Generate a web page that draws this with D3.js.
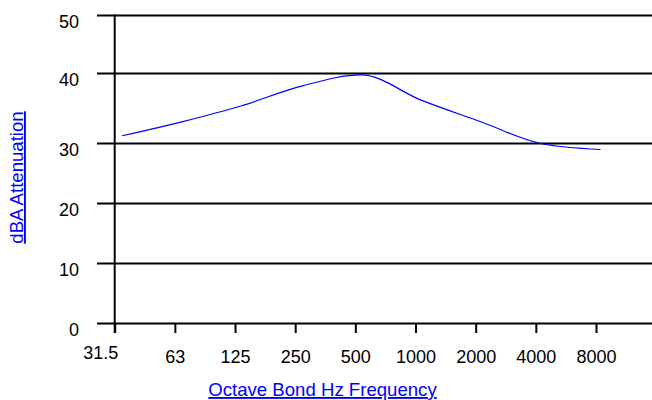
<!DOCTYPE html>
<html>
<head>
<meta charset="utf-8">
<script src="https://cdn.jsdelivr.net/npm/d3@7/dist/d3.min.js"></script>
<style>
  html, body { margin: 0; padding: 0; background: #fff; }
  svg { display: block; font-family: "Liberation Sans", Arial, sans-serif; }
</style>
</head>
<body>
<div id="chart"></div>
<script>
// Octave band centre frequencies (Hz) and attenuation
const frequencies = ['31.5', '63', '125', '250', '500', '1000', '2000', '4000', '8000'];
const attenuation = [31.1, 33.1, 35.4, 38.2, 39.8, 36.2, 33.1, 30.0, 29.0];
const yTicks = [0, 10, 20, 30, 40, 50];

const width = 652, height = 400;

const svg = d3.select('#chart')
  .append('svg')
  .attr('width', width)
  .attr('height', height);

// The source draws its grid a little unevenly, so use a piecewise scale
const y = d3.scaleLinear()
  .domain(yTicks)
  .range([323.5, 263.5, 203.5, 143.5, 73.5, 15.5]);

// Tick positions
const x = d3.scalePoint()
  .domain(frequencies)
  .range([114.7, 596]);

// The curve sits slightly right of the ticks in the original
const xLine = x.copy().range([122, 600.5]);

// Horizontal grid lines
svg.append('g')
  .selectAll('line')
  .data(yTicks)
  .join('line')
  .attr('x1', 97)
  .attr('x2', width)
  .attr('y1', d => y(d))
  .attr('y2', d => y(d))
  .attr('stroke', '#000')
  .attr('stroke-width', 2);

// Y tick labels
svg.append('g')
  .selectAll('text')
  .data(yTicks)
  .join('text')
  .attr('x', 79)
  .attr('y', d => y(d) + 12)
  .attr('text-anchor', 'end')
  .attr('font-size', 18)
  .attr('fill', '#000')
  .text(d => d);

// Vertical axis line
svg.append('line')
  .attr('x1', x(frequencies[0]))
  .attr('x2', x(frequencies[0]))
  .attr('y1', y(50) - 1)
  .attr('y2', y(0) + 9.5)
  .attr('stroke', '#000')
  .attr('stroke-width', 2);

// X axis ticks
const xAxis = svg.append('g')
  .attr('transform', `translate(0,${y(0)})`)
  .call(d3.axisBottom(x).tickSize(9.5).tickSizeOuter(0).tickPadding(17));

xAxis.select('.domain').remove();
xAxis.selectAll('.tick line')
  .attr('stroke', '#000')
  .attr('stroke-width', 2);
xAxis.selectAll('.tick text')
  .attr('font-size', 18)
  .attr('font-family', '"Liberation Sans", Arial, sans-serif')
  .attr('fill', '#000');
// first label sits left of its tick and a bit higher
xAxis.selectAll('.tick text')
  .filter(d => d === '31.5')
  .attr('text-anchor', 'end')
  .attr('dx', 3)
  .attr('dy', '0.5em');

// Attenuation curve
const line = d3.line()
  .x((d, i) => xLine(frequencies[i]))
  .y(d => y(d))
  .curve(d3.curveMonotoneX);

svg.append('path')
  .datum(attenuation)
  .attr('fill', 'none')
  .attr('stroke', '#0000ff')
  .attr('stroke-width', 1.2)
  .attr('d', line);

// Axis titles
svg.append('text')
  .attr('x', 322.5)
  .attr('y', 396)
  .attr('text-anchor', 'middle')
  .attr('font-size', 18.6)
  .attr('fill', '#0000ff')
  .attr('text-decoration', 'underline')
  .text('Octave Bond Hz Frequency');

svg.append('text')
  .attr('transform', 'translate(23,177.5) rotate(-90)')
  .attr('text-anchor', 'middle')
  .attr('font-size', 18.6)
  .attr('fill', '#0000ff')
  .attr('text-decoration', 'underline')
  .text('dBA Attenuation');
</script>
</body>
</html>
